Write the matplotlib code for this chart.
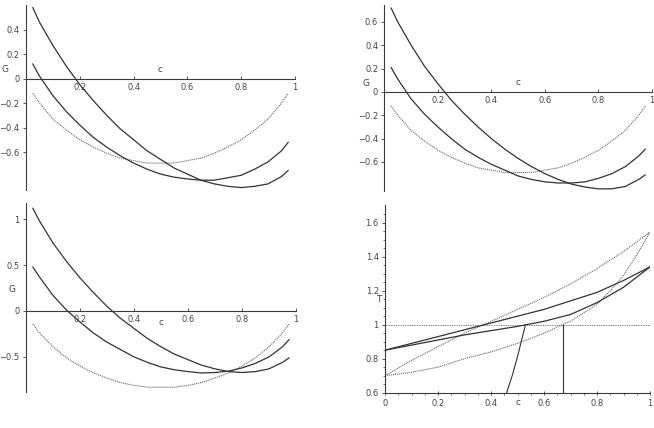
import matplotlib.pyplot as plt

# composition grid shared by the Gibbs energy curves
c_vals = [0.025, 0.05, 0.1, 0.15, 0.2, 0.25, 0.3, 0.35, 0.4, 0.45, 0.5,
          0.55, 0.6, 0.65, 0.7, 0.75, 0.8, 0.85, 0.9, 0.95, 0.975]

# top left panel
g1_a = [0.58, 0.46, 0.27, 0.10, -0.05, -0.18, -0.30, -0.41, -0.50, -0.59, -0.66,
        -0.73, -0.78, -0.83, -0.86, -0.88, -0.89, -0.88, -0.86, -0.80, -0.75]
g1_b = [0.12, 0.02, -0.14, -0.27, -0.38, -0.48, -0.56, -0.63, -0.69, -0.74, -0.78,
        -0.805, -0.82, -0.83, -0.83, -0.81, -0.79, -0.74, -0.68, -0.59, -0.52]
g1_c = [-0.12, -0.20, -0.33, -0.42, -0.50, -0.56, -0.61, -0.65, -0.67, -0.69, -0.69,
        -0.69, -0.67, -0.65, -0.61, -0.56, -0.50, -0.42, -0.33, -0.20, -0.12]

# top right panel
g2_a = [0.72, 0.60, 0.40, 0.22, 0.07, -0.07, -0.19, -0.30, -0.40, -0.49, -0.57,
        -0.64, -0.70, -0.75, -0.79, -0.815, -0.83, -0.83, -0.81, -0.75, -0.71]
g2_b = [0.21, 0.11, -0.06, -0.19, -0.30, -0.40, -0.49, -0.56, -0.62, -0.67, -0.72,
        -0.75, -0.77, -0.78, -0.78, -0.77, -0.74, -0.70, -0.64, -0.55, -0.49]
g2_c = [-0.12, -0.20, -0.33, -0.42, -0.50, -0.56, -0.61, -0.65, -0.67, -0.69, -0.69,
        -0.69, -0.67, -0.65, -0.61, -0.56, -0.50, -0.42, -0.33, -0.20, -0.12]

# bottom left panel
g3_a = [1.12, 0.98, 0.74, 0.54, 0.36, 0.20, 0.05, -0.08, -0.19, -0.30, -0.39,
        -0.47, -0.53, -0.59, -0.63, -0.66, -0.67, -0.66, -0.63, -0.56, -0.51]
g3_b = [0.48, 0.37, 0.17, 0.01, -0.12, -0.24, -0.34, -0.42, -0.50, -0.56, -0.61,
        -0.64, -0.66, -0.675, -0.67, -0.655, -0.62, -0.57, -0.50, -0.39, -0.31]
g3_c = [-0.14, -0.24, -0.39, -0.51, -0.60, -0.675, -0.73, -0.78, -0.81, -0.83, -0.83,
        -0.83, -0.81, -0.78, -0.73, -0.675, -0.60, -0.51, -0.39, -0.24, -0.14]

# bottom right panel: phase diagram T(c)
t_c = [0, 0.1, 0.2, 0.3, 0.4, 0.5, 0.6, 0.7, 0.8, 0.9, 1.0]
t_upper_solid = [0.85, 0.89, 0.93, 0.97, 1.01, 1.05, 1.09, 1.14, 1.19, 1.26, 1.34]
t_lower_solid = [0.85, 0.88, 0.91, 0.94, 0.965, 0.99, 1.02, 1.06, 1.13, 1.22, 1.34]
t_upper_dot = [0.70, 0.79, 0.87, 0.95, 1.02, 1.09, 1.16, 1.24, 1.33, 1.43, 1.545]
t_lower_dot_c = [0, 0.1, 0.2, 0.3, 0.4, 0.5, 0.6, 0.67, 0.7, 0.8, 0.85, 0.9, 0.95, 1.0]
t_lower_dot = [0.70, 0.72, 0.75, 0.80, 0.84, 0.89, 0.95, 1.0, 1.02, 1.12, 1.20, 1.29, 1.41, 1.545]
steep_c = [0.459, 0.480, 0.498, 0.514, 0.530]
steep_t = [0.60, 0.70, 0.80, 0.90, 1.00]
vert_c = [0.67, 0.67]
vert_t = [0.60, 1.00]
t_ref = 1.0

x_ticks = [0.2, 0.4, 0.6, 0.8, 1.0]
x_labels = ["0.2", "0.4", "0.6", "0.8", "1"]
y1_ticks = [0.4, 0.2, 0, -0.2, -0.4, -0.6]
y1_labels = ["0.4", "0.2", "0", "\u22120.2", "\u22120.4", "\u22120.6"]
y2_ticks = [0.6, 0.4, 0.2, 0, -0.2, -0.4, -0.6]
y2_labels = ["0.6", "0.4", "0.2", "0", "\u22120.2", "\u22120.4", "\u22120.6"]
y3_ticks = [1, 0.5, 0, -0.5]
y3_labels = ["1", "0.5", "0", "\u22120.5"]
t_x_ticks = [0, 0.2, 0.4, 0.6, 0.8, 1.0]
t_x_labels = ["0", "0.2", "0.4", "0.6", "0.8", "1"]
t_y_ticks = [0.6, 0.8, 1.0, 1.2, 1.4, 1.6]
t_y_labels = ["0.6", "0.8", "1", "1.2", "1.4", "1.6"]

INK = "#3a3a3a"
SOLID = dict(color="#333333", lw=0.9, solid_capstyle="round", solid_joinstyle="round")
DOTTED = dict(color="#6a6a6a", lw=0.8, linestyle=(0, (1.0, 0.8)))

W, H = 654, 428
fig = plt.figure(figsize=(W / 100, H / 100), dpi=100)
fig.patch.set_facecolor("white")


def px_rect(x0, x1, y_top, y_bot):
    return [x0 / W, 1 - y_bot / H, (x1 - x0) / W, (y_bot - y_top) / H]


def style_axes(ax, cross_zero=True):
    for side in ("top", "right"):
        ax.spines[side].set_visible(False)
    for side in ("left", "bottom"):
        ax.spines[side].set_color(INK)
        ax.spines[side].set_linewidth(0.8)
    ax.spines["left"].set_position(("data", 0))
    if cross_zero:
        ax.spines["bottom"].set_position(("data", 0))
    ax.patch.set_alpha(0)
    ax.tick_params(axis="x", direction="in", length=2.5, width=0.6, color=INK,
                   labelsize=6, labelcolor="#444444", pad=3)
    ax.tick_params(axis="y", direction="out", length=2.5, width=0.6, color=INK,
                   labelsize=6, labelcolor="#444444", pad=2)


def g_panel(rect, ylim, yticks, ylabels, a, b, c, c_xy, g_xy):
    ax = fig.add_axes(rect)
    ax.set_xlim(0, 1)
    ax.set_ylim(*ylim)
    style_axes(ax)
    ax.set_xticks(x_ticks, labels=x_labels)
    ax.set_yticks(yticks, labels=ylabels)
    ax.plot(c_vals, c, **DOTTED)
    ax.plot(c_vals, b, **SOLID)
    ax.plot(c_vals, a, **SOLID)
    ax.text(*c_xy, "c", fontsize=6.5, color="#444444", ha="center", va="center")
    ax.text(*g_xy, "G", fontsize=6.5, color="#444444", ha="center", va="center", clip_on=False)
    return ax


g_panel(px_rect(26, 295, 5, 190), (-0.91, 0.60), y1_ticks, y1_labels,
        g1_a, g1_b, g1_c, (0.50, 0.075), (-0.078, 0.075))
g_panel(px_rect(384.4, 652, 5, 190.7), (-0.846, 0.745), y2_ticks, y2_labels,
        g2_a, g2_b, g2_c, (0.50, 0.08), (-0.068, 0.075))
g_panel(px_rect(26, 296, 203.3, 391.7), (-0.879, 1.173), y3_ticks, y3_labels,
        g3_a, g3_b, g3_c, (0.50, -0.13), (-0.053, 0.236))

# phase diagram
ax = fig.add_axes(px_rect(385, 650, 205, 392.7))
ax.set_xlim(0, 1)
ax.set_ylim(0.6, 1.704)
style_axes(ax, cross_zero=False)
ax.set_xticks(t_x_ticks, labels=t_x_labels)
ax.set_yticks(t_y_ticks, labels=t_y_labels)
ax.set_xticks([v / 20 for v in range(21)], minor=True)
ax.set_yticks([0.6 + v / 20 for v in range(22)], minor=True)
ax.tick_params(which="minor", length=1.5, width=0.5, color=INK)
ax.tick_params(axis="x", direction="inout", length=3)
ax.axhline(t_ref, color="#777777", lw=0.7, linestyle=(0, (1.0, 0.8)))
ax.plot(t_c, t_upper_dot, **DOTTED)
ax.plot(t_lower_dot_c, t_lower_dot, **DOTTED)
ax.plot(t_c, t_upper_solid, **SOLID)
ax.plot(t_c, t_lower_solid, **SOLID)
ax.plot(steep_c, steep_t, color="#333333", lw=0.8)
ax.plot(vert_c, vert_t, color="#333333", lw=0.8)
ax.text(-0.025, 1.15, "T", fontsize=6.5, color="#444444", ha="center", va="center", clip_on=False)
ax.text(0.50, 0.545, "c", fontsize=6.5, color="#444444", ha="center", va="center", clip_on=False)

fig.savefig("out.png", dpi=100)
